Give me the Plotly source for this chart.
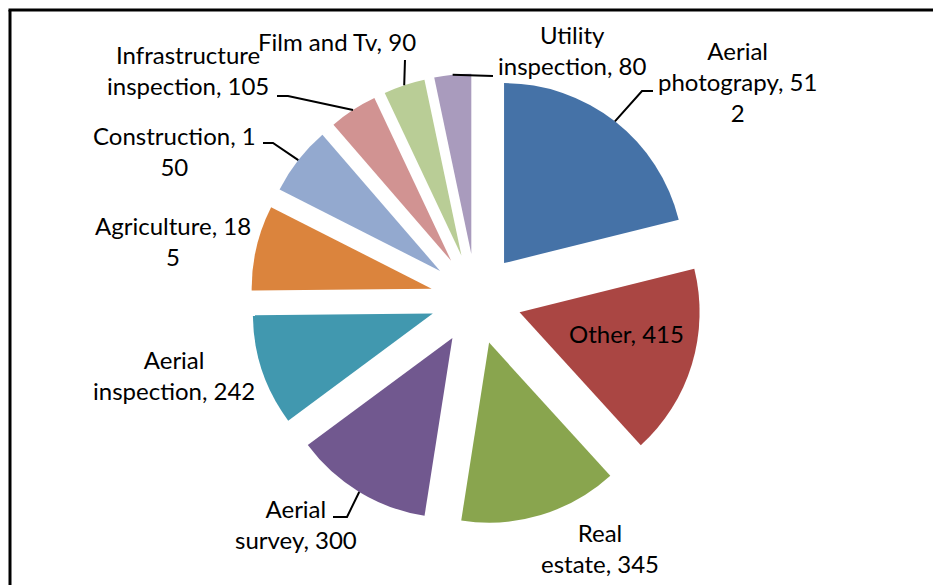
import math
import plotly.graph_objects as go

# ---- data ----
labels = ["Aerial photograpy", "Other", "Real estate", "Aerial survey", "Aerial inspection",
          "Agriculture", "Construction", "Infrastructure inspection", "Film and Tv", "Utility inspection"]
values = [512, 415, 345, 300, 242, 185, 150, 105, 90, 80]
display_text = ["Aerial<br>photograpy, 51<br>2", "Other, 415", "Real<br>estate, 345",
                "Aerial<br>survey, 300", "Aerial<br>inspection, 242", "Agriculture, 18<br>5",
                "Construction, 1<br>50", "Infrastructure<br>inspection, 105", "Film and Tv, 90",
                "Utility<br>inspection, 80"]
colors = ["#4572A7", "#AA4643", "#89A54E", "#71588F", "#4198AF",
          "#DB843D", "#93A9CF", "#D19392", "#B9CD96", "#A99BBD"]

# ---- layout constants (pixels) ----
W, H = 933, 585
CX, CY = 476, 299      # pie centre
R = 180                # pie radius
PULL = 0.253           # explode fraction

label_pos = [(737, 82), (626, 333), (600, 548), (296, 524), (174, 375),
             (173, 241), (174, 151), (188, 70), (337, 42), (572, 50)]
# leader line points (from label side); None = no leader
leader_pts = [
    [(653, 91), (642, 91)],
    None,
    None,
    [(333, 517), (347, 517)],
    None,
    None,
    [(263, 143), (273, 143)],
    [(277, 96), (288, 96)],
    [(405, 60)],
    [(493, 76)],
]

FONT = "Lato"
FS = 24

def px(x):
    return x / W

def py(y):
    return 1 - y / H

# pie domain so radius = R
side = R * (2 + 2 * PULL)
dx = side / 2 / W
dy = side / 2 / H
fig = go.Figure(go.Pie(
    labels=labels, values=values, sort=False, direction="clockwise", rotation=0,
    pull=[PULL] * len(values), textinfo="none", hoverinfo="label+value",
    marker=dict(colors=colors, line=dict(width=0)),
    domain=dict(x=[px(CX) - dx, px(CX) + dx], y=[py(CY) - dy, py(CY) + dy]),
    showlegend=False,
))

total = sum(values)
cum = 0
shapes = []
annotations = []
for i, v in enumerate(values):
    mid = (cum + v / 2) / total * 2 * math.pi
    cum += v
    ux, uy = math.sin(mid), -math.cos(mid)
    ax = CX + PULL * R * ux + R * ux
    ay = CY + PULL * R * uy + R * uy
    if leader_pts[i]:
        pts = leader_pts[i] + [(ax, ay)]
        path = "M " + " L ".join(f"{px(x):.5f},{py(y):.5f}" for x, y in pts)
        shapes.append(dict(type="path", xref="paper", yref="paper", path=path,
                           line=dict(color="black", width=2)))
    lx, ly = label_pos[i]
    annotations.append(dict(text=display_text[i], x=px(lx), y=py(ly), xref="paper", yref="paper",
                            xanchor="center", yanchor="middle", align="center", showarrow=False,
                            font=dict(family=FONT, size=FS, color="black")))

# frame border (top and left edges visible only)
shapes.append(dict(type="line", xref="paper", yref="paper", x0=px(10) - 1.5 / W, y0=py(10),
                   x1=1.0, y1=py(10), line=dict(color="black", width=3)))
shapes.append(dict(type="line", xref="paper", yref="paper", x0=px(10), y0=0.0,
                   x1=px(10), y1=py(10), line=dict(color="black", width=3)))

fig.update_layout(width=W, height=H, margin=dict(l=0, r=0, t=0, b=0),
                  paper_bgcolor="white", plot_bgcolor="white",
                  shapes=shapes, annotations=annotations)
fig.write_html("out.html", config={"displayModeBar": False},
               post_script=("document.documentElement.style.overflow='hidden';"
                            "document.body.style.margin='0';document.body.style.overflow='hidden';"))
